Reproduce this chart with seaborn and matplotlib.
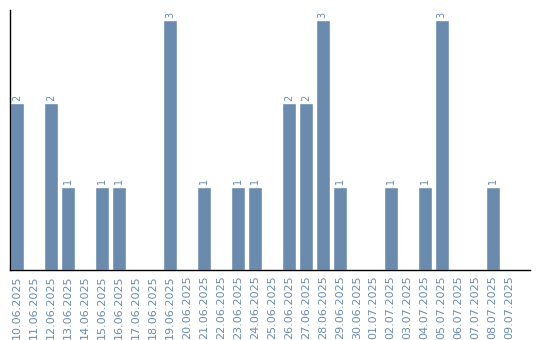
import matplotlib
matplotlib.use("Agg")
import matplotlib.pyplot as plt
import seaborn as sns
import pandas as pd

dates = ["10.06.2025", "11.06.2025", "12.06.2025", "13.06.2025", "14.06.2025",
         "15.06.2025", "16.06.2025", "17.06.2025", "18.06.2025", "19.06.2025",
         "20.06.2025", "21.06.2025", "22.06.2025", "23.06.2025", "24.06.2025",
         "25.06.2025", "26.06.2025", "27.06.2025", "28.06.2025", "29.06.2025",
         "30.06.2025", "01.07.2025", "02.07.2025", "03.07.2025", "04.07.2025",
         "05.07.2025", "06.07.2025", "07.07.2025", "08.07.2025", "09.07.2025"]
counts = [2, 0, 2, 1, 0, 1, 1, 0, 0, 3, 0, 1, 0, 1, 1, 0, 2, 2, 3, 1,
          0, 0, 1, 0, 1, 3, 0, 0, 1, 0]

COLOR = "#6a8bad"
df = pd.DataFrame({"date": dates, "count": counts})

sns.set_style("white")
fig = plt.figure(figsize=(5.4, 3.4), dpi=100)
ax = fig.add_axes([10/540, 70/340, 520/540, 260/340])
sns.barplot(data=df, x="date", y="count", color=COLOR, width=0.82,
            saturation=1, ax=ax)

for i, v in enumerate(counts):
    if v > 0:
        ax.text(i, v + 0.03, str(v), rotation=90, ha="center", va="bottom",
                color=COLOR, fontsize=7)

ax.set_xlim(-0.41, 30.2)
ax.set_ylim(0, 3.12)
ax.set_xlabel("")
ax.set_ylabel("")
ax.set_yticks([])
ax.tick_params(axis="x", length=0, pad=4, labelsize=8, labelcolor=COLOR,
               rotation=90)
for s in ["top", "right"]:
    ax.spines[s].set_visible(False)
for s in ["left", "bottom"]:
    ax.spines[s].set_color("black")
    ax.spines[s].set_linewidth(1.0)

fig.savefig("out.png", dpi=100)
